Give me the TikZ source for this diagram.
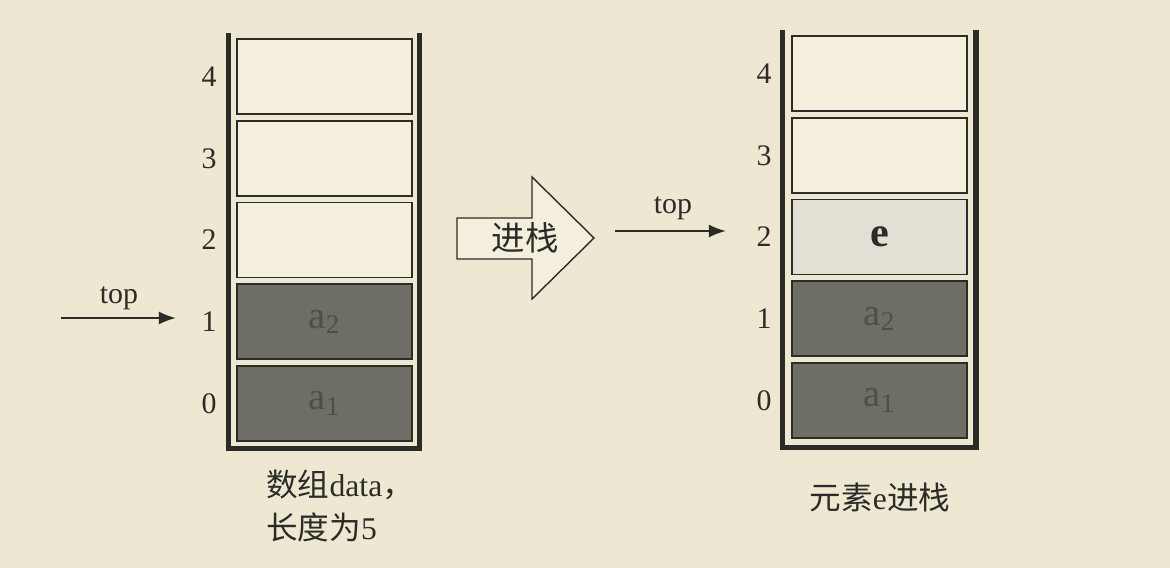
\documentclass[tikz,border=0pt]{standalone}
\usepackage{fontspec}
\setmainfont{Liberation Serif}
\newfontfamily\cjk{Noto Sans CJK SC}
\usepackage{tikz}
\usetikzlibrary{matrix,positioning,arrows.meta}
\usepackage{xcolor}
\definecolor{paper}{HTML}{EEE7D1}
\definecolor{ink}{HTML}{2B2B28}
\definecolor{blank}{HTML}{F4EEDC}
\definecolor{full}{HTML}{6E6D66}
\definecolor{fulltext}{HTML}{4F4E49}
\definecolor{pale}{HTML}{E3DFD4}

\begin{document}
\begin{tikzpicture}[x=0.02cm,y=-0.02cm,
        cell/.style={draw=ink, line width=1pt, minimum width=3.5cm, fill=blank},
        full/.style={fill=full, text=fulltext, font=\fontsize{22}{22}\selectfont},
        pale/.style={fill=pale, text=ink, font=\bfseries\fontsize{24}{24}\selectfont},
        wall/.style={draw=ink, line width=3pt, line join=miter},
        ptr/.style={draw=ink, line width=0.9pt, -{Latex[length=0.34cm,width=0.26cm]}},
        push/.style={draw=ink, fill=blank, line width=0.8pt, line join=miter},
        caption/.style={text=ink, inner sep=0pt, font=\fontsize{18}{24}\selectfont},
        stack/.style={matrix of nodes, nodes in empty cells,
                      nodes={anchor=center, minimum height=1.5cm, text=ink,
                             font=\fontsize{17}{17}\selectfont},
                      row sep=0.1cm, column sep=0.24cm,
                      column 1/.style={nodes={minimum width=0.6cm}},
                      column 2/.style={nodes={cell}}}]
    \fill[paper] (0,0) rectangle (1170,568);
    \useasboundingbox (0,0) rectangle (1170,568);

    % array before the push
    \matrix (L) at (303.5,240) [stack]
    {
      4 & \\
      3 & \\
      2 & \\
      1 & |[full]| a\textsubscript{2} \\
      0 & |[full]| a\textsubscript{1} \\
    };
    \draw[wall] ([shift={(-8,-5)}]L-1-2.north west) -- ([shift={(-8,7)}]L-5-2.south west)
                -- ([shift={(7,7)}]L-5-2.south east) -- ([shift={(7,-5)}]L-1-2.north east);

    % array after the push
    \matrix (R) at (858.5,237) [stack]
    {
      4 & \\
      3 & \\
      2 & |[pale]| e \\
      1 & |[full]| a\textsubscript{2} \\
      0 & |[full]| a\textsubscript{1} \\
    };
    \draw[wall] ([shift={(-9,-5)}]R-1-2.north west) -- ([shift={(-9,9)}]R-5-2.south west)
                -- ([shift={(8,9)}]R-5-2.south east) -- ([shift={(8,-5)}]R-1-2.north east);

    % top pointers
    \coordinate (fromL) at (61,318);
    \draw[ptr, shorten >=0.36cm] (fromL) -- (fromL -| L-4-1.west);
    \node[text=ink, font=\fontsize{17}{17}\selectfont] (topL) at (119,298) {top};
    \coordinate (fromR) at (615,231);
    \draw[ptr, shorten >=0.46cm] (fromR) -- (fromR -| R-3-1.west);
    \node[text=ink, font=\fontsize{17}{17}\selectfont] (topR) at (673,208) {top};

    % push arrow
    \draw[push] (457,218) -- (532,218) -- (532,177) -- (594,238) -- (532,299)
                -- (532,259) -- (457,259) -- cycle;
    \node[text=ink, font=\cjk\fontsize{19}{19}\selectfont] (pushtxt) at (525,238) {进栈};

    % captions
    \node[caption, align=left, anchor=west] (capL) at (266,506)
        {{\cjk 数组}data{\cjk ，}\\{\cjk 长度为}5};
    \node[caption] (capR) at (880,497) {{\cjk 元素}e{\cjk 进栈}};
\end{tikzpicture}
\end{document}
